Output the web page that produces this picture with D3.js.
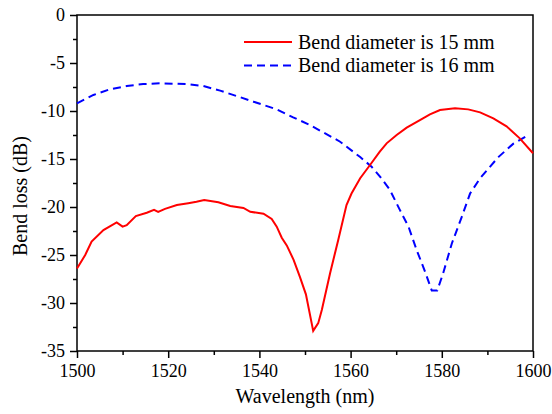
<!DOCTYPE html>
<html>
<head>
<meta charset="utf-8">
<script src="https://cdn.jsdelivr.net/npm/d3@7"></script>
<style>
  body { margin: 0; background: #fff; }
</style>
</head>
<body>
<div id="chart"></div>
<script>
// wavelength (nm) / bend loss (dB)
const wl15 = [1500, 1501.8, 1503.2, 1505.8, 1508.7, 1510, 1510.9, 1512.9, 1515.3, 1516.9, 1517.8,
  1519.3, 1521.9, 1524.4, 1526.2, 1527.9, 1531, 1533.6, 1536.5, 1538, 1540.9, 1542.7, 1543.8,
  1544.9, 1546, 1547.5, 1548.9, 1550.2, 1551.8, 1552.9, 1553.7, 1555.5, 1557.3, 1559.1, 1560.2,
  1562.1, 1564.3, 1566.4, 1567.9, 1570.1, 1572.3, 1575.2, 1577.4, 1579.6, 1582.9, 1585.8, 1588.4,
  1591.3, 1594.2, 1597.1, 1600];
const loss15 = [-26.4, -25.0, -23.6, -22.4, -21.6, -22.05, -21.9, -20.94, -20.6, -20.3, -20.5,
  -20.2, -19.8, -19.6, -19.45, -19.27, -19.5, -19.9, -20.1, -20.5, -20.7, -21.25, -22.05,
  -23.2, -24.0, -25.5, -27.3, -29.1, -32.9, -32.1, -30.7, -26.9, -23.4, -19.8, -18.6,
  -17.0, -15.6, -14.24, -13.37, -12.5, -11.74, -10.94, -10.35, -9.9, -9.72, -9.83, -10.14,
  -10.77, -11.6, -12.85, -14.4];

const wl16 = [1500, 1503.6, 1507.2, 1510.9, 1514.5, 1518.2, 1524.1, 1527.7, 1531.4, 1535, 1538.7,
  1543.8, 1547.4, 1551.1, 1557.7, 1562.1, 1564.6, 1566.4, 1568.6, 1570.8, 1572.7, 1574.5, 1576.3,
  1577.8, 1579, 1580.3, 1582.2, 1584.4, 1586.2, 1588.4, 1592.4, 1595.7, 1599];
const loss16 = [-9.2, -8.33, -7.74, -7.4, -7.19, -7.12, -7.19, -7.4, -7.88, -8.44, -9.03,
  -9.83, -10.66, -11.46, -13.2, -14.8, -15.8, -16.8, -18.2, -20.3, -22.05, -24.5, -26.7,
  -28.7, -28.7, -26.9, -23.8, -21.0, -18.6, -17.0, -14.8, -13.4, -12.5];

const seriesNames = ["Bend diameter is 15 mm", "Bend diameter is 16 mm"];
const xTicks = [1500, 1520, 1540, 1560, 1580, 1600];
const yTicks = [0, -5, -10, -15, -20, -25, -30, -35];

const FONT = "'Liberation Serif', 'Times New Roman', serif";

const margin = { top: 15, right: 19, bottom: 63, left: 77 };
const width = 552 - margin.left - margin.right;
const height = 414 - margin.top - margin.bottom;

const svg = d3.select("#chart").append("svg")
  .attr("width", 552).attr("height", 414);
const g = svg.append("g")
  .attr("transform", `translate(${margin.left},${margin.top})`);

const x = d3.scaleLinear().domain([1500, 1600]).range([0, width]);
const y = d3.scaleLinear().domain([-35, 0]).range([height, 0]);

// frame
g.append("rect")
  .attr("width", width).attr("height", height)
  .attr("fill", "none").attr("stroke", "#000").attr("stroke-width", 1.5);

function styleAxis(a) {
  a.select(".domain").remove();
  a.attr("font-family", null);
  a.selectAll("line").attr("stroke", "#000").attr("stroke-width", 1.5);
  a.selectAll("text").style("font-family", FONT).style("font-size", "18px").attr("fill", "#000");
}

// minor ticks
g.append("g").attr("transform", `translate(0,${height})`)
  .call(d3.axisBottom(x).tickValues(d3.range(1510, 1600, 20)).tickSize(4).tickFormat(""))
  .call(styleAxis);
g.append("g")
  .call(d3.axisLeft(y).tickValues(d3.range(-32.5, 0, 5)).tickSize(4).tickFormat(""))
  .call(styleAxis);

// major ticks
g.append("g").attr("transform", `translate(0,${height})`)
  .call(d3.axisBottom(x).tickValues(xTicks).tickSize(7).tickPadding(6).tickFormat(d3.format("d")))
  .call(styleAxis);
g.append("g")
  .call(d3.axisLeft(y).tickValues(yTicks).tickSize(7).tickPadding(5)
    .tickFormat(d => d === 0 ? "0" : "-" + Math.abs(d)))
  .call(styleAxis);

// axis titles
g.append("text")
  .attr("x", width / 2).attr("y", 403 - margin.top)
  .attr("text-anchor", "middle")
  .style("font-family", FONT).style("font-size", "20px")
  .text("Wavelength (nm)");
g.append("text")
  .attr("transform", `translate(${27 - margin.left},${196 - margin.top}) rotate(-90)`)
  .attr("text-anchor", "middle")
  .style("font-family", FONT).style("font-size", "20px")
  .text("Bend loss (dB)");

const line = d3.line()
  .x(d => x(d[0]))
  .y(d => y(d[1]));

const data15 = wl15.map((w, i) => [w, loss15[i]]);
const data16 = wl16.map((w, i) => [w, loss16[i]]);

g.append("path").datum(data16)
  .attr("fill", "none").attr("stroke", "#0000ff").attr("stroke-width", 2)
  .attr("stroke-dasharray", "8,5")
  .attr("d", line);

g.append("path").datum(data15)
  .attr("fill", "none").attr("stroke", "#ff0000").attr("stroke-width", 2)
  .attr("d", line);

// legend
const legend = g.append("g").attr("transform", "translate(167,27)");
const styles = [{ color: "#ff0000", dash: null }, { color: "#0000ff", dash: "8,5" }];
seriesNames.forEach((name, i) => {
  const row = legend.append("g").attr("transform", `translate(0,${i * 23.5})`);
  row.append("line")
    .attr("x1", 0).attr("x2", 48)
    .attr("stroke", styles[i].color).attr("stroke-width", 2)
    .attr("stroke-dasharray", styles[i].dash);
  row.append("text")
    .attr("x", 54).attr("y", 6.5)
    .style("font-family", FONT).style("font-size", "20px")
    .text(name);
});
</script>
</body>
</html>
